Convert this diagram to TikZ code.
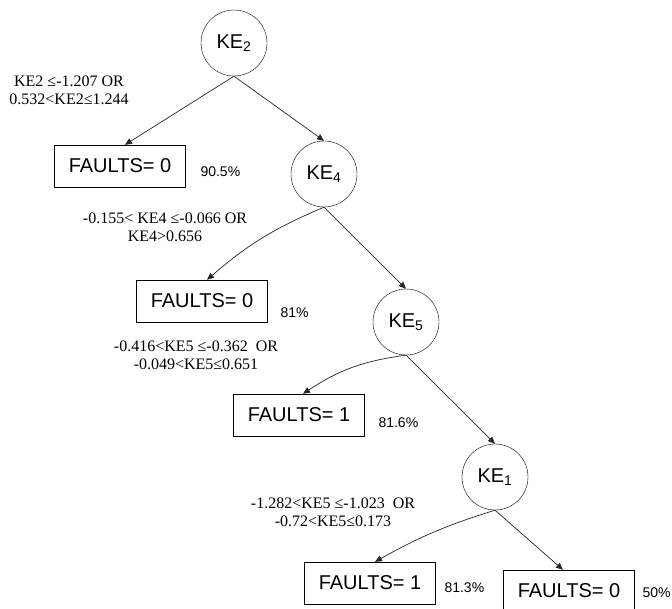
\documentclass[tikz,border=0pt]{standalone}
\usepackage{fontspec}
\setmainfont{Liberation Serif}
\newfontfamily\arialfont{Liberation Sans}
\usetikzlibrary{arrows.meta,positioning}
\tikzset{
	attr/.style={circle,draw,inner sep=0,minimum size=66pt,font=\arialfont\fontsize{20}{22}\selectfont},
	leaf/.style={rectangle,draw,inner sep=0,minimum width=131pt,minimum height=42pt,font=\arialfont\fontsize{20}{22}\selectfont},
	cond/.style={align=center,font=\fontsize{16}{18}\selectfont},
	pct/.style={anchor=west,font=\arialfont\fontsize{14}{16}\selectfont},
	diredge/.style={-{Triangle[width=6pt,length=7pt]},color=black!85,line width=0.7pt}
}

\begin{document}
\begin{tikzpicture}[x=1pt,y=-1pt]
		\useasboundingbox (0,0) rectangle (672,608);
		%%%attribute nodes
		\node[attr] (KE2) at (234,43) {KE\textsubscript{2}};
		\node[attr] (KE4) at (324,174) {KE\textsubscript{4}};
		\node[attr] (KE5) at (406,322) {KE\textsubscript{5}};
		\node[attr] (KE1) at (495,477) {KE\textsubscript{1}};
		
		%%%leaves
		\node[leaf] (f1) at (120,166) {FAULTS= 0};
		\node[leaf] (f2) at (202,301) {FAULTS= 0};
		\node[leaf] (f3) at (299,415) {FAULTS= 1};
		\node[leaf] (f4) at (370,583) {FAULTS= 1};
		\node[leaf] (f5) at (569,591) {FAULTS= 0};
		
		\node[pct] (p1) at (197,172) {90.5\%};
		\node[pct] (p2) at (277,313) {81\%};
		\node[pct] (p3) at (375,423) {81.6\%};
		\node[pct] (p4) at (441,588) {81.3\%};
		\node[pct] (p5) at (639,593) {50\%};
		
		%%%split conditions
		\node[cond] (c1) at (69,90) {KE2 ≤-1.207 OR\\0.532<KE2≤1.244};
		\node[cond] (c2) at (165,227) {-0.155< KE4 ≤-0.066 OR\\KE4>0.656};
		\node[cond] (c3) at (196,355) {-0.416<KE5 ≤-0.362\ \ OR\\-0.049<KE5≤0.651};
		\node[cond] (c4) at (333,512) {-1.282<KE5 ≤-1.023\ \ OR\\-0.72<KE5≤0.173};
		
		\draw[diredge] (KE2.south) -- ([xshift=5pt]f1.north);
		\draw[diredge] (KE2.south) -- (KE4.north);
		\draw[diredge] (KE4.south) to[bend right=9] ([xshift=5pt]f2.north);
		\draw[diredge] (KE4.south) -- (KE5.north);
		\draw[diredge] (KE5.south) to[bend right=13] ([xshift=4pt]f3.north);
		\draw[diredge] (KE5.south) -- (KE1.north);
		\draw[diredge] (KE1.south) to[bend right=6] ([xshift=5pt]f4.north);
		\draw[diredge] (KE1.south) -- ([xshift=-6pt]f5.north);
	\end{tikzpicture}
\end{document}
